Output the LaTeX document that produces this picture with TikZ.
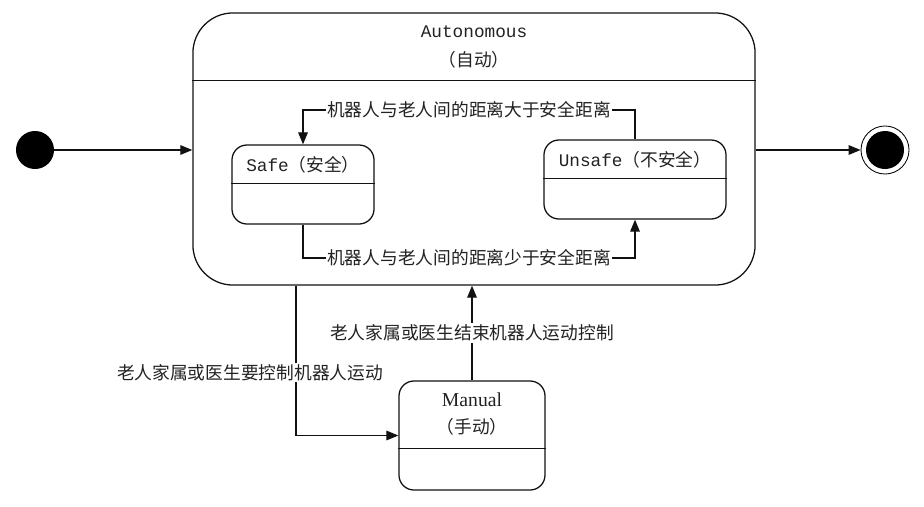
\documentclass[tikz,border=0pt]{standalone}
\usepackage{fontspec}
\setmainfont{Liberation Serif}
\newfontfamily\cjk{Noto Sans CJK SC}
\newfontfamily\monof{Liberation Mono}
\usetikzlibrary{positioning,calc,arrows.meta}
\definecolor{cInk}{HTML}{222222}
\definecolor{cLine}{HTML}{111111}
\tikzset{
  statebox/.style={rectangle,draw=cLine,line width=0.9pt,rounded corners=0.375cm,fill=white,inner sep=0pt},
  bigbox/.style={rectangle,draw=cLine,line width=0.9pt,rounded corners=1cm,inner sep=0pt},
  divline/.style={draw=cLine,line width=0.9pt},
  trans/.style={-{Triangle[length=0.3cm,width=0.24cm]},draw=cLine,line width=0.9pt},
  lbl/.style={fill=white,inner sep=1pt,text=cInk,font=\cjk\fontsize{12.6}{15}\selectfont},
  ttl/.style={text=cInk,align=center,font=\fontsize{12.6}{15}\selectfont},
}
\begin{document}
\begin{tikzpicture}[x=0.025cm,y=-0.025cm]
  \useasboundingbox (0,0) rectangle (924,506);
  % states
  \node[bigbox,minimum width=14.05cm,minimum height=6.8cm] (auto) at (474,149) {};
  \node[statebox,minimum width=3.55cm,minimum height=1.975cm] (safe) at (303,184.5) {};
  \node[statebox,minimum width=4.55cm,minimum height=1.975cm] (unsafe) at (635,179.5) {};
  \node[statebox,minimum width=3.65cm,minimum height=2.725cm] (manual) at (472,435.5) {};
  \node[circle,fill=black,minimum size=0.95cm,inner sep=0pt] (init) at (35,150) {};
  \node[circle,draw=black,line width=0.6pt,minimum size=1.2cm,inner sep=0pt] (final) at (885,150) {};
  \node[circle,fill=black,minimum size=0.95cm,inner sep=0pt] (finaldot) at (final) {};
  % compartments
  \draw[divline] ($(auto.north west)+(0,68)$) -- ($(auto.north east)+(0,68)$);
  \draw[divline] ($(safe.north west)+(0,39)$) -- ($(safe.north east)+(0,39)$);
  \draw[divline] ($(unsafe.north west)+(0,39)$) -- ($(unsafe.north east)+(0,39)$);
  \draw[divline] ($(manual.north west)+(0,68)$) -- ($(manual.north east)+(0,68)$);
  % names
  \node[ttl] (autoname) at (474,47) {{\monof Autonomous}\\[6pt]{\cjk（自动）}};
  \node[ttl] (safename) at (303,165) {{\monof Safe}{\cjk（安全）}};
  \node[ttl] (unsafename) at (635,160) {{\monof Unsafe}{\cjk（不安全）}};
  \node[ttl,font=\fontsize{14}{17}\selectfont] (manualname) at (472,414) {Manual\\[2pt]{\cjk\fontsize{12.6}{15}\selectfont（手动）}};
  % transitions
  \coordinate (topY) at (0,110);
  \coordinate (lowY) at (0,258);
  \coordinate (downX) at (296,0);
  \draw[trans] (init) -- (init -| auto.west);
  \draw[trans] (auto.east |- final) -- (final);
  \draw[trans] (safe.south) |- node[lbl,pos=0.75] {机器人与老人间的距离少于安全距离} (lowY -| unsafe.south) -- (unsafe.south);
  \draw[trans] (unsafe.north) |- node[lbl,pos=0.75] {机器人与老人间的距离大于安全距离} (topY -| safe.north) -- (safe.north);
  \draw[trans] (downX |- auto.south) |- node[lbl,pos=0.29,xshift=-1.15cm] {老人家属或医生要控制机器人运动} (manual.west);
  \draw[trans] (manual.north) -- node[lbl] {老人家属或医生结束机器人运动控制} (manual.north |- auto.south);
\end{tikzpicture}
\end{document}
